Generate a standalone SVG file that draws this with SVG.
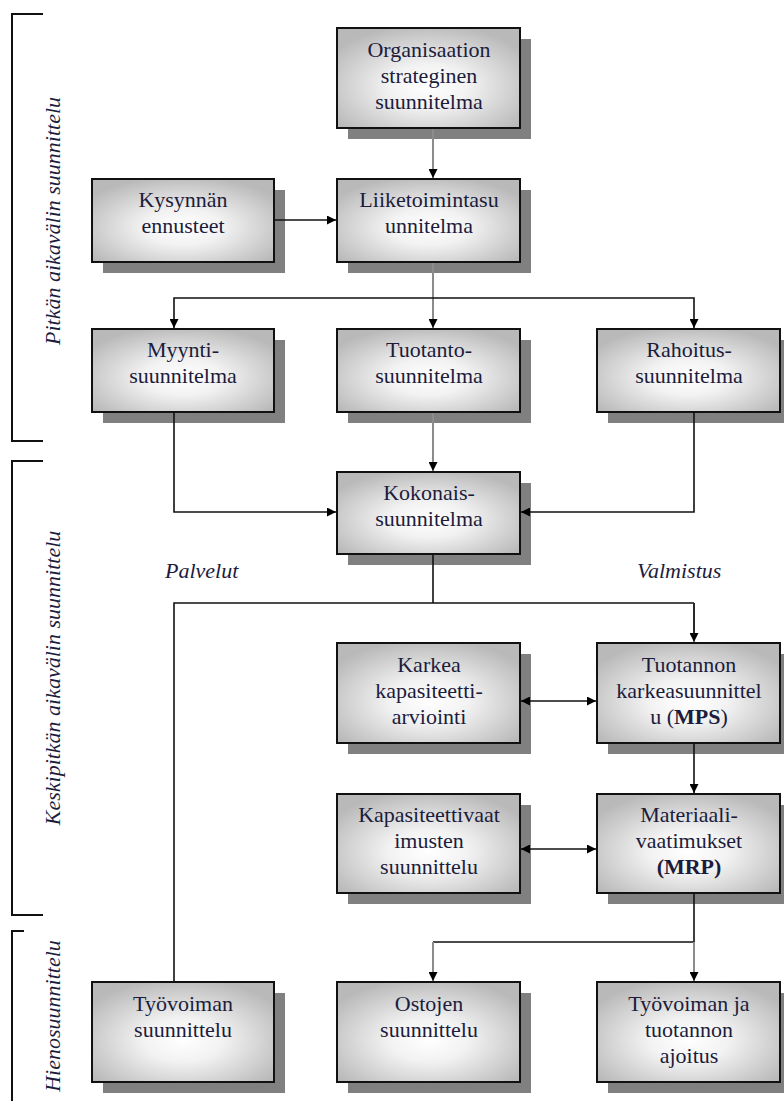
<svg xmlns="http://www.w3.org/2000/svg" width="784" height="1101" viewBox="0 0 784 1101" font-family="Liberation Serif, DejaVu Serif, serif">
<defs>
<radialGradient id="g" cx="50%" cy="58%" r="62%">
<stop offset="0" stop-color="#ffffff"/>
<stop offset="0.35" stop-color="#f2f2f2"/>
<stop offset="1" stop-color="#b9b9b9"/>
</radialGradient>
<marker id="a" viewBox="0 0 10 10" refX="10" refY="5" markerWidth="9" markerHeight="9" markerUnits="userSpaceOnUse" orient="auto-start-reverse">
<path d="M0,0 L10,5 L0,10 z" fill="#000"/>
</marker>
<style>
.sh{fill:#808080}
.bx{fill:url(#g);stroke:#111;stroke-width:2}
text{font-family:"Liberation Serif",serif}
.t{font-size:22px;fill:#1c1c3c;text-anchor:middle}
.b{font-weight:bold}
.it{font-size:22px;font-style:italic;fill:#1c1c3c}
.k{fill:none;stroke:#111;stroke-width:1.6}
.gr{fill:none;stroke:#8c8c8c;stroke-width:2}
.br{fill:none;stroke:#111;stroke-width:2}
</style>
</defs>
<rect width="784" height="1101" fill="#fff"/>

<g id="brackets">
<path class="br" d="M43,14 H12 V441 H43"/>
<path class="br" d="M43,461 H12 V915 H43"/>
<path class="br" d="M24,931 H12 V1101"/>
<text class="it" text-anchor="middle" style="font-family:'Liberation Serif',serif" transform="translate(60,221) rotate(-90)">Pitkän aikavälin suunnittelu</text>
<text class="it" text-anchor="middle" style="font-family:'Liberation Serif',serif" transform="translate(60,678) rotate(-90)">Keskipitkän aikavälin suunnittelu</text>
<text class="it" text-anchor="middle" style="font-family:'Liberation Serif',serif" transform="translate(60,1016) rotate(-90)">Hienosuunnittelu</text>
</g>

<g id="labels">
<text class="it" x="165" y="578">Palvelut</text>
<text class="it" x="637" y="578">Valmistus</text>
</g>

<g id="n-org">
<rect class="sh" x="348" y="39" width="183" height="100"/>
<rect class="bx" x="337" y="28" width="183" height="100"/>
<text class="t" x="429" y="57">Organisaation</text>
<text class="t" x="429" y="83">strateginen</text>
<text class="t" x="429" y="109">suunnitelma</text>
</g>

<g id="n-kysynnan">
<rect class="sh" x="103" y="190" width="182" height="83"/>
<rect class="bx" x="92" y="179" width="182" height="83"/>
<text class="t" x="183" y="207">Kysynnän</text>
<text class="t" x="183" y="233">ennusteet</text>
</g>

<g id="n-liike">
<rect class="sh" x="348" y="190" width="183" height="83"/>
<rect class="bx" x="337" y="179" width="183" height="83"/>
<text class="t" x="429" y="207">Liiketoimintasu</text>
<text class="t" x="429" y="233">unnitelma</text>
</g>

<g id="n-myynti">
<rect class="sh" x="103" y="340" width="182" height="83"/>
<rect class="bx" x="92" y="329" width="182" height="83"/>
<text class="t" x="183" y="357">Myynti-</text>
<text class="t" x="183" y="383">suunnitelma</text>
</g>

<g id="n-tuotanto">
<rect class="sh" x="348" y="340" width="183" height="83"/>
<rect class="bx" x="337" y="329" width="183" height="83"/>
<text class="t" x="429" y="357">Tuotanto-</text>
<text class="t" x="429" y="383">suunnitelma</text>
</g>

<g id="n-rahoitus">
<rect class="sh" x="608" y="340" width="183" height="83"/>
<rect class="bx" x="597" y="329" width="183" height="83"/>
<text class="t" x="689" y="357">Rahoitus-</text>
<text class="t" x="689" y="383">suunnitelma</text>
</g>

<g id="n-kokonais">
<rect class="sh" x="348" y="483" width="183" height="82"/>
<rect class="bx" x="337" y="472" width="183" height="82"/>
<text class="t" x="429" y="500">Kokonais-</text>
<text class="t" x="429" y="526">suunnitelma</text>
</g>

<g id="n-karkea">
<rect class="sh" x="348" y="654" width="183" height="100"/>
<rect class="bx" x="337" y="643" width="183" height="100"/>
<text class="t" x="429" y="672">Karkea</text>
<text class="t" x="429" y="698">kapasiteetti-</text>
<text class="t" x="429" y="724">arviointi</text>
</g>

<g id="n-mps">
<rect class="sh" x="608" y="654" width="183" height="100"/>
<rect class="bx" x="597" y="643" width="183" height="100"/>
<text class="t" x="689" y="672">Tuotannon</text>
<text class="t" x="689" y="698">karkeasuunnittel</text>
<text class="t" x="689" y="724">u (<tspan class="b">MPS</tspan>)</text>
</g>

<g id="n-kapasiteetti">
<rect class="sh" x="348" y="805" width="183" height="99"/>
<rect class="bx" x="337" y="794" width="183" height="99"/>
<text class="t" x="429" y="822">Kapasiteettivaat</text>
<text class="t" x="429" y="848">imusten</text>
<text class="t" x="429" y="874">suunnittelu</text>
</g>

<g id="n-mrp">
<rect class="sh" x="608" y="805" width="183" height="99"/>
<rect class="bx" x="597" y="794" width="183" height="99"/>
<text class="t" x="689" y="822">Materiaali-</text>
<text class="t" x="689" y="848">vaatimukset</text>
<text class="t b" x="689" y="874">(MRP)</text>
</g>

<g id="n-tyovoima">
<rect class="sh" x="103" y="993" width="182" height="100"/>
<rect class="bx" x="92" y="982" width="182" height="100"/>
<text class="t" x="183" y="1011">Työvoiman</text>
<text class="t" x="183" y="1037">suunnittelu</text>
</g>

<g id="n-ostojen">
<rect class="sh" x="348" y="993" width="183" height="100"/>
<rect class="bx" x="337" y="982" width="183" height="100"/>
<text class="t" x="429" y="1011">Ostojen</text>
<text class="t" x="429" y="1037">suunnittelu</text>
</g>

<g id="n-ajoitus">
<rect class="sh" x="608" y="993" width="183" height="100"/>
<rect class="bx" x="597" y="982" width="183" height="100"/>
<text class="t" x="689" y="1011">Työvoiman ja</text>
<text class="t" x="689" y="1037">tuotannon</text>
<text class="t" x="689" y="1063">ajoitus</text>
</g>

<g id="connectors">
<path class="gr" d="M433,129 V178" marker-end="url(#a)"/>
<path class="k" d="M275,220 H336" marker-end="url(#a)"/>
<path class="gr" d="M433,263 V298"/>
<path class="gr" d="M433,298 V328" marker-end="url(#a)"/>
<path class="k" d="M174,328 V298 H694 V328" marker-start="url(#a)" marker-end="url(#a)"/>
<path class="k" d="M174,413 V512 H336" marker-end="url(#a)"/>
<path class="k" d="M694,413 V512 H521" marker-end="url(#a)"/>
<path class="gr" d="M433,413 V471" marker-end="url(#a)"/>
<path class="k" d="M433,555 V603"/>
<path class="k" d="M174,981 V603 H694"/>
<path class="gr" d="M694,603 V642" marker-end="url(#a)"/>
<path class="k" d="M694,603 V635"/>
<path class="k" d="M521,701 H596" marker-start="url(#a)" marker-end="url(#a)"/>
<path class="k" d="M694,744 V793" marker-end="url(#a)"/>
<path class="k" d="M521,849 H596" marker-start="url(#a)" marker-end="url(#a)"/>
<path class="k" d="M694,894 V942 H433"/>
<path class="gr" d="M433,942 V981" marker-end="url(#a)"/>
<path class="gr" d="M694,942 V981" marker-end="url(#a)"/>
</g>
</svg>
